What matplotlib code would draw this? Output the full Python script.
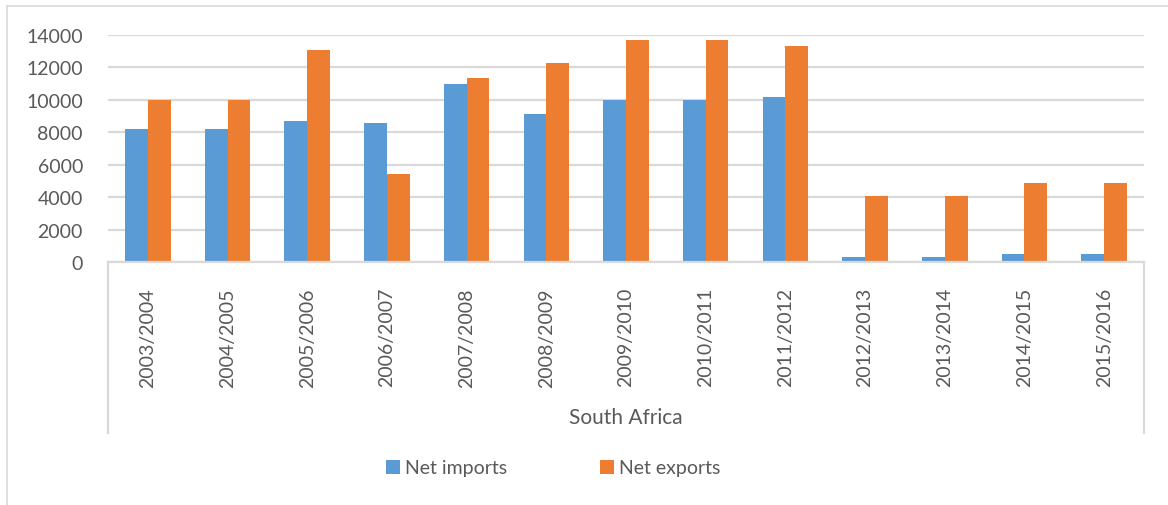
import matplotlib.pyplot as plt
import numpy as np
from matplotlib.lines import Line2D

periods = ['2003/2004', '2004/2005', '2005/2006', '2006/2007', '2007/2008',
           '2008/2009', '2009/2010', '2010/2011', '2011/2012', '2012/2013',
           '2013/2014', '2014/2015', '2015/2016']
net_imports = [8200, 8200, 8700, 8600, 11000, 9100, 10000, 10000, 10150,
               330, 330, 510, 510]
net_exports = [10000, 10000, 13100, 5450, 11350, 12250, 13700, 13700, 13300,
               4050, 4050, 4850, 4850]

plt.rcParams['font.family'] = ['Lato', 'DejaVu Sans']
txt = '#595959'
grid = '#D9D9D9'

W, H = 1168, 506
fig = plt.figure(figsize=(W / 100, H / 100), dpi=100)
L, R, T, B = 108, 1144, 36, 263
ax = fig.add_axes([L / W, 1 - B / H, (R - L) / W, (B - T) / H])

x = np.arange(len(periods))
width = 0.2857
ax.bar(x - width / 2, net_imports, width, color='#5B9BD5', label='Net imports')
ax.bar(x + width / 2, net_exports, width, color='#ED7D31', label='Net exports')

ax.set_xlim(-0.5, len(periods) - 0.5)
ax.set_ylim(0, 14000)
ax.set_yticks(np.arange(0, 14001, 2000))
ax.yaxis.grid(True, color=grid, linewidth=1.6)
ax.set_axisbelow(True)
for s in ['top', 'right', 'left']:
    ax.spines[s].set_visible(False)
ax.spines['bottom'].set_color(grid)
ax.spines['bottom'].set_linewidth(1.6)
ax.tick_params(axis='y', length=0, labelsize=14, labelcolor=txt, pad=18)
ax.tick_params(axis='x', length=0, labelsize=14, labelcolor=txt, pad=18)
ax.set_xticks(x)
ax.set_xticklabels(periods, rotation=90)

# category group box lines
for px in (L, R):
    fig.add_artist(Line2D([px / W, px / W], [1 - B / H, 1 - 434 / H],
                          color=grid, linewidth=1.6))
fig.text((L + R) / 2 / W, 1 - 418 / H, 'South Africa', ha='center', va='center',
         fontsize=15, color=txt)

# outer chart border (top and left visible)
fig.add_artist(Line2D([7 / W, 1], [1 - 7 / H, 1 - 7 / H], color=grid, linewidth=1.2))
fig.add_artist(Line2D([7 / W, 7 / W], [0, 1 - 7 / H], color=grid, linewidth=1.2))

fig.legend(loc='center', bbox_to_anchor=(553 / W, 1 - 469 / H), ncol=2,
           frameon=False, fontsize=14, labelcolor=txt, handlelength=0.7,
           handleheight=0.7, handletextpad=0.25, columnspacing=4.8)

plt.savefig('out.png', dpi=100)
plt.close()
